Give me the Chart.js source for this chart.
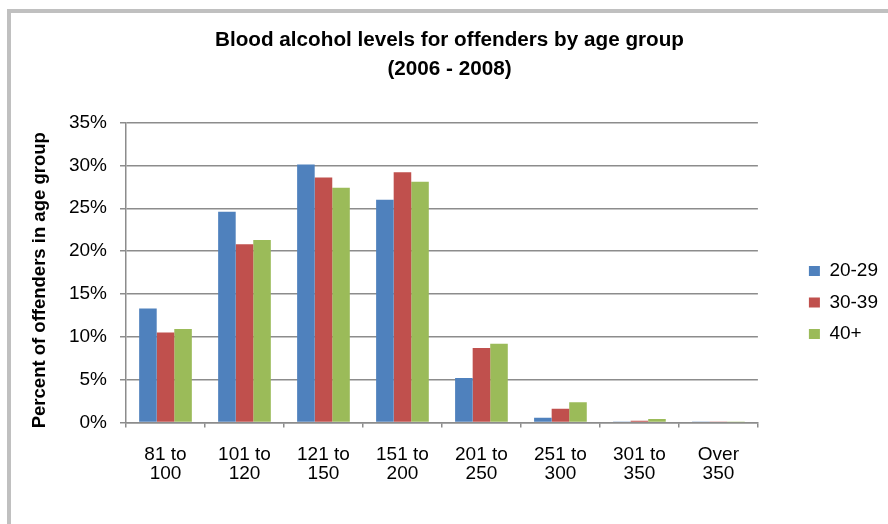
<!DOCTYPE html>
<html>
<head>
<meta charset="utf-8">
<script src="https://cdn.jsdelivr.net/npm/chart.js@4/dist/chart.umd.min.js"></script>
<style>
  html, body { margin: 0; padding: 0; background: #fff; overflow: hidden; }
  #frame {
    position: absolute; left: 7px; top: 9px; width: 881px; height: 515px;
    border-left: 4px solid #c0c0c0; border-top: 4px solid #c0c0c0;
    box-sizing: border-box;
  }
  #myCanvas { position: absolute; left: 0; top: 0; }
</style>
</head>
<body>
<div id="frame"><canvas id="myCanvas" width="877" height="511"></canvas></div>
<script>
// blood alcohol ranges (mg per 100ml)
var categories = [["81 to", "100"], ["101 to", "120"], ["121 to", "150"], ["151 to", "200"],
                  ["201 to", "250"], ["251 to", "300"], ["301 to", "350"], ["Over", "350"]];
var seriesNames = ["20-29", "30-39", "40+"];
// percent of offenders in each age group
var age20to29 = [13.3, 24.6, 30.1, 26.0, 5.2, 0.55, 0.05, 0.05];
var age30to39 = [10.5, 20.8, 28.6, 29.2, 8.7, 1.6, 0.2, 0.05];
var age40plus = [10.9, 21.3, 27.4, 28.1, 9.2, 2.35, 0.4, 0.03];
var yTicks = [0, 5, 10, 15, 20, 25, 30, 35];

Chart.defaults.font.family = "'Liberation Sans', Arial, sans-serif";
Chart.defaults.color = "#000";

var gridColor = "#8c8c8c";
var ctx = document.getElementById("myCanvas").getContext("2d");

var data = {
  labels: categories,
  datasets: [
    { label: seriesNames[0], data: age20to29, backgroundColor: "#4F81BD" },
    { label: seriesNames[1], data: age30to39, backgroundColor: "#C0504D" },
    { label: seriesNames[2], data: age40plus, backgroundColor: "#9BBB59" }
  ]
};

var options = {
  responsive: false,
  animation: false,
  layout: { padding: { left: 0, right: 0, top: 0, bottom: 0 } },
  datasets: { bar: { categoryPercentage: 0.667, barPercentage: 1.0, borderWidth: 0 } },
  plugins: {
    title: {
      display: true,
      text: ["Blood alcohol levels for offenders by age group", "(2006 - 2008)"],
      font: { size: 20.7, weight: "bold", lineHeight: 1.4 },
      color: "#000",
      padding: { top: 12.6, bottom: 39 }
    },
    legend: {
      display: true,
      position: "right",
      // empty title only pushes the items down to where they sit in the original
      title: { display: true, text: "", font: { size: 10, lineHeight: 1.2 }, padding: { top: 56, bottom: 0 } },
      labels: { boxWidth: 11, boxHeight: 10, padding: 12.5, font: { size: 19 }, color: "#000" }
    },
    tooltip: { enabled: false }
  },
  scales: {
    x: {
      grid: { offset: true, drawOnChartArea: false, drawTicks: true, tickLength: 5, color: gridColor, lineWidth: 1.5 },
      border: { display: true, color: gridColor, width: 1.5 },
      ticks: { font: { size: 19, lineHeight: 1.0 }, color: "#000", padding: 18, maxRotation: 0, autoSkip: false },
      afterFit: function(s) { s.height = 101.5; }
    },
    y: {
      min: 0,
      max: 35,
      afterBuildTicks: function(s) { s.ticks = yTicks.map(function(v) { return { value: v }; }); },
      grid: { color: gridColor, lineWidth: 1.5, tickLength: 6 },
      border: { display: true, color: gridColor, width: 1.5 },
      ticks: {
        font: { size: 19 }, color: "#000", padding: 13,
        callback: function(v) { return v + "%"; }
      },
      title: {
        display: true,
        text: "Percent of offenders in age group   ",
        font: { size: 18.5, weight: "bold", lineHeight: 1.2 },
        color: "#000",
        padding: { top: 18, bottom: 0 }
      },
      afterFit: function(s) { s.width = 115; }
    },
    // spacer between plot and legend
    gap: {
      type: "linear",
      position: "right",
      display: true,
      grid: { display: false },
      border: { display: false },
      ticks: { display: false },
      afterFit: function(s) { s.width = 38.5; }
    }
  }
};

var chart = new Chart(ctx, { type: "bar", data: data, options: options });
</script>
</body>
</html>
